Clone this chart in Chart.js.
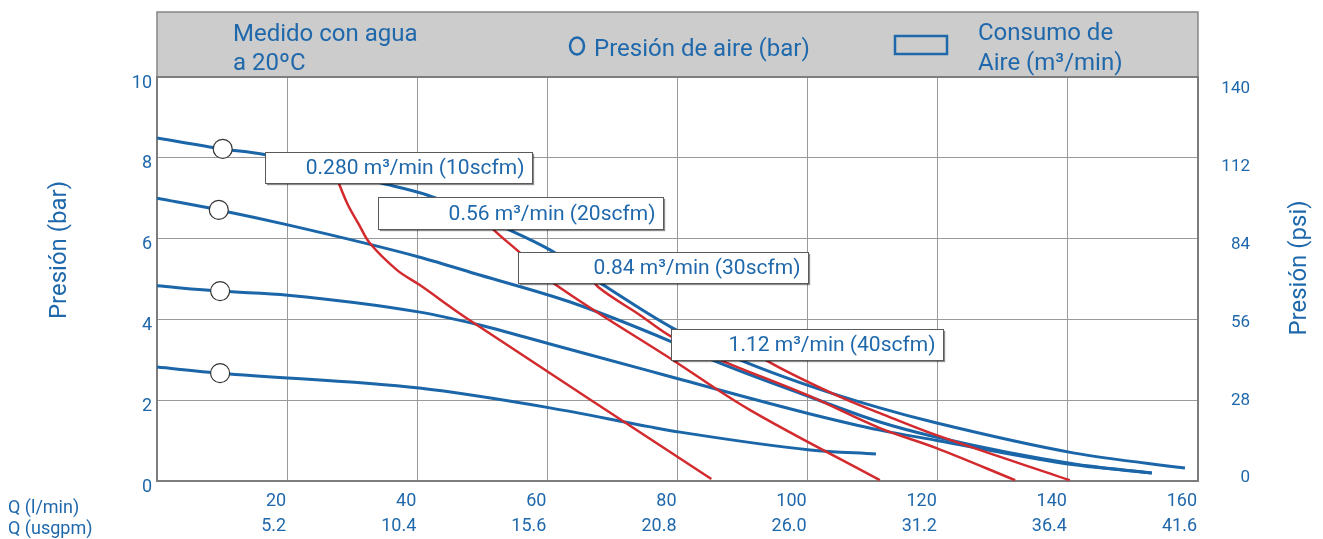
<!DOCTYPE html>
<html>
<head>
<meta charset="utf-8">
<script src="https://cdn.jsdelivr.net/npm/chart.js@4/dist/chart.umd.min.js"></script>
<style>
  html, body { margin: 0; padding: 0; background: #fff; }
</style>
</head>
<body>
<canvas id="graph" width="1323" height="539"></canvas>
<script>
// axis ticks
const flowTicks = [20, 40, 60, 80, 100, 120, 140, 160];
const usgpmTicks = ["5.2", "10.4", "15.6", "20.8", "26.0", "31.2", "36.4", "41.6"];
const barTicks = [0, 2, 4, 6, 8, 10];
const psiTicks = [0, 28, 56, 84, 112, 140];

// blue curves: outlet pressure (bar) vs flow (l/min), one per air pressure
const q1 = [0, 10.1, 16.3, 34.3, 41.5, 53.8, 60.4, 68.6, 79.2, 89.6, 100.4, 111.1, 119.7, 141.0, 158.0];
const p1 = [8.49, 8.22, 8.09, 7.38, 7.08, 6.24, 5.72, 4.85, 3.79, 3.00, 2.35, 1.81, 1.44, 0.69, 0.32];
const q2 = [0, 9.5, 20.1, 40.4, 49.6, 63.5, 79.2, 85.3, 100.4, 111.1, 119.7, 141.0, 152.9];
const p2 = [7.00, 6.71, 6.34, 5.54, 5.10, 4.43, 3.44, 3.00, 2.08, 1.46, 1.09, 0.42, 0.20];
const q3 = [0, 9.7, 20.1, 40.4, 49.6, 60.4, 75.8, 80.8, 100.4, 111.1, 119.7, 141.0, 152.9];
const p3 = [4.83, 4.70, 4.60, 4.18, 3.86, 3.39, 2.72, 2.50, 1.66, 1.26, 1.01, 0.40, 0.20];
const q4 = [0, 9.7, 40.3, 60.4, 75.8, 80.4, 100.4, 110.5];
const p4 = [2.82, 2.67, 2.30, 1.81, 1.34, 1.21, 0.77, 0.67];

// red curves: constant air consumption
const airLabels = ["0.280 m³/min (10scfm)", "0.56 m³/min (20scfm)", "0.84 m³/min (30scfm)", "1.12 m³/min (40scfm)"];
const qa1 = [27.5, 29.3, 31.0, 32.7, 36.9, 40.4, 47.6, 85.2];
const pa1 = [7.55, 6.85, 6.36, 5.89, 5.22, 4.85, 4.03, 0.05];
const qa2 = [50.0, 51.6, 55.3, 60.9, 79.2, 91.1, 111.1];
const pa2 = [6.58, 6.24, 5.72, 4.90, 3.00, 1.76, 0.02];
const qa3 = [66.6, 67.8, 74.2, 79.2, 86.5, 99.9, 111.1, 119.7, 131.9];
const pa3 = [5.10, 4.80, 4.11, 3.56, 3.00, 2.13, 1.31, 0.82, 0.02];
const qa4 = [91.1, 93.5, 105.0, 111.1, 119.7, 140.3];
const pa4 = [3.37, 3.00, 2.08, 1.68, 1.14, 0.02];

// air pressure markers
const markerQ = [10.1, 9.5, 9.7, 9.7];
const markerP = [8.22, 6.71, 4.70, 2.67];

// label boxes in data units (left, right, top, bottom)
const boxPlaces = [
  [16.6, 57.6, 8.14, 7.38],
  [34.0, 77.8, 7.03, 6.24],
  [55.5, 100.1, 5.67, 4.90],
  [79.0, 120.8, 3.76, 3.00],
];

const BLUE = "#1a66a8";
const TEXT = "#1f68ab";
const RED = "#d32a2e";
const FONT = "Roboto, 'Noto Sans', sans-serif";

function pairs(xs, ys) {
  return xs.map((x, i) => ({ x: x, y: ys[i] }));
}

function blueLine(xs, ys) {
  return {
    data: pairs(xs, ys),
    borderColor: BLUE,
    borderWidth: 3,
    pointRadius: 0,
    cubicInterpolationMode: "monotone",
    fill: false,
  };
}

function redLine(xs, ys) {
  return {
    data: pairs(xs, ys),
    borderColor: RED,
    borderWidth: 2.5,
    pointRadius: 0,
    tension: 0.35,
    fill: false,
  };
}

const extras = {
  id: "extras",
  beforeDraw(chart) {
    const ctx = chart.ctx;
    const a = chart.chartArea;
    ctx.save();
    // header band
    ctx.fillStyle = "#cbcccb";
    ctx.fillRect(a.left, 12, a.right - a.left, a.top - 12);
    ctx.strokeStyle = "#858585";
    ctx.lineWidth = 1.5;
    ctx.strokeRect(a.left, 12, a.right - a.left, a.top - 12);

    ctx.fillStyle = TEXT;
    ctx.textBaseline = "alphabetic";
    ctx.textAlign = "left";
    ctx.font = "24px " + FONT;
    ctx.fillText("Medido con agua", 233, 41);
    ctx.fillText("a 20ºC", 233, 70);
    ctx.fillText("Presión de aire (bar)", 594, 56);
    ctx.fillText("Consumo de", 978, 40);
    ctx.fillText("Aire (m³/min)", 978, 70);

    ctx.strokeStyle = TEXT;
    ctx.lineWidth = 2.5;
    ctx.beginPath();
    ctx.ellipse(577, 46, 7, 8.5, 0, 0, Math.PI * 2);
    ctx.stroke();
    ctx.strokeRect(895, 36, 52, 18);

    // axis titles
    ctx.font = "24px " + FONT;
    ctx.textAlign = "center";
    ctx.textBaseline = "middle";
    ctx.save();
    ctx.translate(60, 250);
    ctx.rotate(-Math.PI / 2);
    ctx.fillText("Presión (bar)", 0, 0);
    ctx.restore();
    ctx.save();
    ctx.translate(1300, 268);
    ctx.rotate(-Math.PI / 2);
    ctx.fillText("Presión (psi)", 0, 0);
    ctx.restore();

    ctx.font = "18px " + FONT;
    ctx.textAlign = "left";
    ctx.fillText("Q (l/min)", 8, 508);
    ctx.fillText("Q (usgpm)", 8, 529);
    ctx.restore();
  },
  beforeDatasetsDraw(chart) {
    const ctx = chart.ctx;
    const a = chart.chartArea;
    ctx.save();
    ctx.strokeStyle = "#7d7d7d";
    ctx.lineWidth = 2;
    ctx.strokeRect(a.left, a.top, a.right - a.left, a.bottom - a.top);
    ctx.restore();
  },
  afterDatasetsDraw(chart) {
    const ctx = chart.ctx;
    const xs = chart.scales.x;
    const ys = chart.scales.y;
    ctx.save();
    ctx.font = "21px " + FONT;
    ctx.textAlign = "right";
    ctx.textBaseline = "middle";
    boxPlaces.forEach((b, i) => {
      const l = Math.round(xs.getPixelForValue(b[0])) + 0.5;
      const r = Math.round(xs.getPixelForValue(b[1])) + 0.5;
      const t = Math.round(ys.getPixelForValue(b[2])) + 0.5;
      const btm = Math.round(ys.getPixelForValue(b[3])) + 0.5;
      ctx.shadowColor = "rgba(0,0,0,0.45)";
      ctx.shadowOffsetX = 1.5;
      ctx.shadowOffsetY = 1.5;
      ctx.shadowBlur = 1;
      ctx.fillStyle = "#ffffff";
      ctx.fillRect(l, t, r - l, btm - t);
      ctx.shadowColor = "transparent";
      ctx.strokeStyle = "#5a5a5a";
      ctx.lineWidth = 1;
      ctx.strokeRect(l, t, r - l, btm - t);
      ctx.fillStyle = TEXT;
      ctx.fillText(airLabels[i], r - 8, (t + btm) / 2 + 1);
    });
    ctx.restore();
  },
};

const context = document.getElementById("graph").getContext("2d");

new Chart(context, {
  type: "line",
  data: {
    datasets: [
      {
        data: pairs(markerQ, markerP),
        showLine: false,
        pointRadius: 9.5,
        pointBackgroundColor: "#ffffff",
        pointBorderColor: "#333333",
        pointBorderWidth: 1.2,
      },
      redLine(qa1, pa1),
      redLine(qa2, pa2),
      redLine(qa3, pa3),
      redLine(qa4, pa4),
      blueLine(q1, p1),
      blueLine(q2, p2),
      blueLine(q3, p3),
      blueLine(q4, p4),
    ],
  },
  options: {
    responsive: false,
    animation: false,
    devicePixelRatio: 1,
    layout: {
      padding: { top: 77, right: 73, left: 0, bottom: 0 },
    },
    plugins: {
      legend: { display: false },
      tooltip: { enabled: false },
    },
    scales: {
      x: {
        type: "linear",
        min: 0,
        max: 160,
        afterBuildTicks: scale => {
          scale.ticks = [0].concat(flowTicks).map(v => ({ value: v }));
        },
        afterFit: scale => {
          scale.height = 58;
        },
        grid: { color: "#9a9a9a", lineWidth: 1, drawTicks: false },
        border: { display: false },
        ticks: {
          color: TEXT,
          font: { family: FONT, size: 18, lineHeight: 1.4 },
          padding: 8,
          align: "end",
          labelOffset: -1,
          maxRotation: 0,
          autoSkip: false,
          callback: value => {
            const i = flowTicks.indexOf(value);
            if (i < 0) return "";
            return [String(value), usgpmTicks[i]];
          },
        },
      },
      y: {
        type: "linear",
        position: "left",
        min: 0,
        max: 10,
        afterBuildTicks: scale => {
          scale.ticks = barTicks.map(v => ({ value: v }));
        },
        afterFit: scale => {
          scale.width = 157;
        },
        grid: { color: "#9a9a9a", lineWidth: 1, drawTicks: false },
        border: { display: false },
        ticks: {
          color: TEXT,
          font: { family: FONT, size: 18 },
          padding: 5,
          labelOffset: 6,
        },
      },
      psi: {
        type: "linear",
        position: "right",
        min: -1,
        max: 144.3,
        afterBuildTicks: scale => {
          scale.ticks = psiTicks.map(v => ({ value: v }));
        },
        afterFit: scale => {
          scale.width = 52;
        },
        grid: { display: false, drawTicks: false },
        border: { display: false },
        ticks: {
          color: TEXT,
          font: { family: FONT, size: 17 },
          crossAlign: "far",
          labelOffset: 0,
        },
      },
    },
  },
  plugins: [extras],
});
</script>
</body>
</html>
